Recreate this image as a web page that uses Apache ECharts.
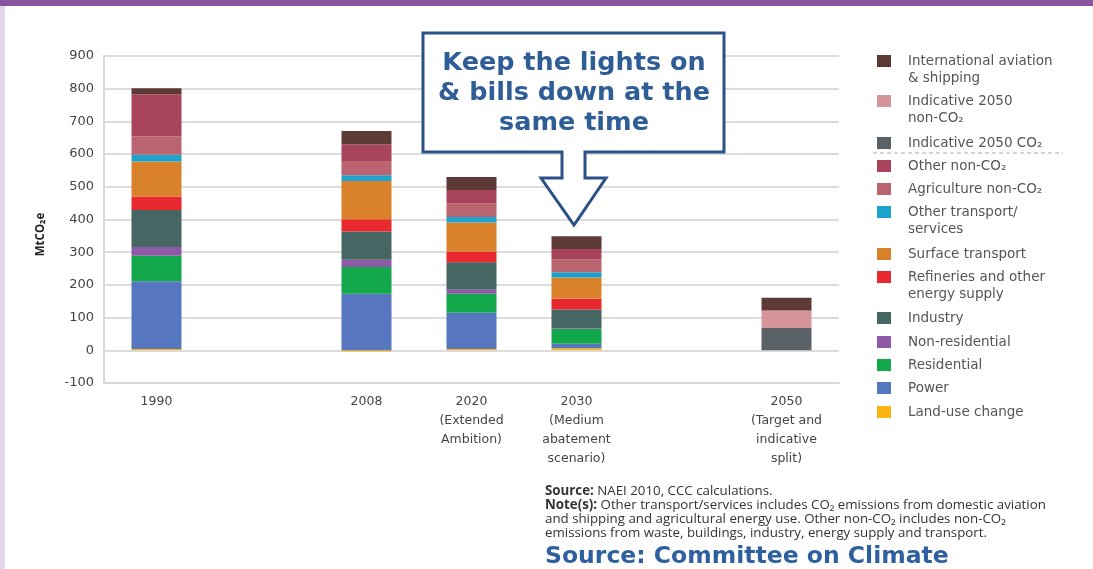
<!DOCTYPE html>
<html>
<head>
<meta charset="utf-8">
<script src="https://cdn.jsdelivr.net/npm/echarts@6/dist/echarts.min.js"></script>
<style>
html,body{margin:0;padding:0;background:#fff;}
#chart{width:1093px;height:569px;}
</style>
</head>
<body>
<div id="chart"></div>
<script>
// ---- data ----
const categories = ['1990', ' ', '2008', '2020\n(Extended\nAmbition)', '2030\n(Medium\nabatement\nscenario)', '  ', '2050\n(Target and\nindicative\nsplit)'];
const yTicks = [-100, 0, 100, 200, 300, 400, 500, 600, 700, 800, 900];

const landUse        = [4,   '-', -4,  4,   6,   '-', '-'];
const power          = [207, '-', 173, 111, 14,  '-', '-'];
const residential    = [78,  '-', 82,  58,  46,  '-', '-'];
const nonResidential = [27,  '-', 22,  12,  2,   '-', '-'];
const industry       = [113, '-', 86,  84,  57,  '-', '-'];
const refineries     = [41,  '-', 38,  33,  33,  '-', '-'];
const surfaceTransport = [107, '-', 117, 89, 65, '-', '-'];
const otherTransport = [21,  '-', 17,  17,  16,  '-', '-'];
const agriculture    = [56,  '-', 44,  42,  39,  '-', '-'];
const otherNonCO2    = [129, '-', 51,  40,  32,  '-', '-'];
const indicativeCO2  = ['-', '-', '-', '-', '-', '-', 68];
const indicativeNonCO2 = ['-', '-', '-', '-', '-', '-', 54];
const intlAviation   = [18,  '-', 41,  40,  39,  '-', 39];

const seriesNames = ['Land-use change', 'Power', 'Residential', 'Non-residential', 'Industry',
  'Refineries and other energy supply', 'Surface transport', 'Other transport/services',
  'Agriculture non-CO₂', 'Other non-CO₂', 'Indicative 2050 CO₂', 'Indicative 2050 non-CO₂',
  'International aviation & shipping'];
const seriesValues = [landUse, power, residential, nonResidential, industry, refineries,
  surfaceTransport, otherTransport, agriculture, otherNonCO2, indicativeCO2, indicativeNonCO2, intlAviation];
const legendLabels = {
  'International aviation & shipping': ['International aviation', '& shipping'],
  'Indicative 2050 non-CO₂': ['Indicative 2050', 'non-CO₂'],
  'Indicative 2050 CO₂': ['Indicative 2050 CO₂'],
  'Other non-CO₂': ['Other non-CO₂'],
  'Agriculture non-CO₂': ['Agriculture non-CO₂'],
  'Other transport/services': ['Other transport/', 'services'],
  'Surface transport': ['Surface transport'],
  'Refineries and other energy supply': ['Refineries and other', 'energy supply'],
  'Industry': ['Industry'],
  'Non-residential': ['Non-residential'],
  'Residential': ['Residential'],
  'Power': ['Power'],
  'Land-use change': ['Land-use change']
};
const calloutText = 'Keep the lights on\n& bills down at the\nsame time';
const noteLines = [
  '{b|Source:} NAEI 2010, CCC calculations.',
  '{b|Note(s):} Other transport/services includes CO₂ emissions from domestic aviation',
  'and shipping and agricultural energy use. Other non-CO₂ includes non-CO₂',
  'emissions from waste, buildings, industry, energy supply and transport.'
];
const sourceText = 'Source: Committee on Climate';

// ---- styles / layout ----
const colors = {
  'Land-use change': '#fbb517',
  'Power': '#5677bf',
  'Residential': '#12a84b',
  'Non-residential': '#8e5aa8',
  'Industry': '#466664',
  'Refineries and other energy supply': '#e8292f',
  'Surface transport': '#d9822b',
  'Other transport/services': '#1ba3cc',
  'Agriculture non-CO₂': '#b9646f',
  'Other non-CO₂': '#a8445c',
  'Indicative 2050 CO₂': '#5b6267',
  'Indicative 2050 non-CO₂': '#d6959b',
  'International aviation & shipping': '#5e3a36'
};
const legendOrder = ['International aviation & shipping', 'Indicative 2050 non-CO₂', 'Indicative 2050 CO₂',
  'Other non-CO₂', 'Agriculture non-CO₂', 'Other transport/services', 'Surface transport',
  'Refineries and other energy supply', 'Industry', 'Non-residential', 'Residential', 'Power', 'Land-use change'];
const legendIconCenters = [61, 101, 143, 166, 189, 212, 254, 277, 318, 342, 365, 388, 412];
const LH = 17;

const chart = echarts.init(document.getElementById('chart'));

const legends = legendOrder.map((name, i) => {
  const lines = legendLabels[name];
  const twoLine = lines.length > 1;
  // For two-line entries, a blank first line keeps the first text line level with the icon
  const label = twoLine ? '\u00a0\n' + lines.join('\n') : lines[0];
  return {
    data: [{name: name, icon: 'rect'}],
    orient: 'vertical',
    left: 877,
    top: legendIconCenters[i] - (twoLine ? 1.5 * LH : 0.5 * LH),
    padding: 0,
    itemWidth: 14,
    itemHeight: 12,
    selectedMode: false,
    formatter: () => label,
    textStyle: {
      fontFamily: 'DejaVu Sans', fontSize: 13.5, color: '#555', lineHeight: LH,
      padding: [0, 0, 0, 12]
    }
  };
});

const series = seriesNames.map((name, i) => ({
  name: name,
  type: 'bar',
  stack: 'total',
  barWidth: 50,
  data: seriesValues[i],
  itemStyle: {color: colors[name]},
  emphasis: {disabled: true}
}));

const calloutShape = [[423,33],[724,33],[724,152],[585,152],[585,178],[606,178],[574,225],[541,178],[562,178],[562,152],[423,152]];

chart.setOption({
  backgroundColor: '#ffffff',
  animation: false,
  grid: {left: 104, right: 254, top: 56, bottom: 186, containLabel: false},
  xAxis: {
    type: 'category',
    data: categories,
    axisTick: {show: false},
    axisLine: {onZero: false, lineStyle: {color: '#d8d8d8', width: 2}},
    axisLabel: {interval: 0, fontFamily: 'DejaVu Sans', fontSize: 12.5, color: '#444', lineHeight: 19, margin: 9}
  },
  yAxis: {
    type: 'value',
    min: yTicks[0],
    max: yTicks[yTicks.length - 1],
    interval: 100,
    name: 'MtCO₂e',
    nameLocation: 'middle',
    nameGap: 57,
    nameTextStyle: {fontFamily: 'Open Sans', fontSize: 11.5, fontWeight: 'bold', color: '#222', padding: [0, 30, 0, 0]},
    axisLine: {show: true, lineStyle: {color: '#d8d8d8', width: 2}},
    axisTick: {show: false},
    splitLine: {lineStyle: {color: '#dcdcdc', width: 2}},
    axisLabel: {fontFamily: 'DejaVu Sans', fontSize: 13, color: '#444', margin: 10}
  },
  legend: legends,
  series: series,
  graphic: [
    {type: 'rect', left: 0, top: 0, shape: {width: 1093, height: 6}, style: {fill: '#8a53a0'}, z: 100},
    {type: 'rect', left: 0, top: 6, shape: {width: 5, height: 563}, style: {fill: '#e3d5ea'}, z: 100},
    {type: 'polygon', shape: {points: calloutShape}, style: {fill: '#ffffff', stroke: '#2b5187', lineWidth: 3}, z: 100},
    {type: 'text', x: 574, y: 93, z: 101,
      style: {text: calloutText, align: 'center', verticalAlign: 'middle', fontFamily: 'DejaVu Sans', fontWeight: 'bold', fontSize: 25.5, lineHeight: 30, fill: '#2f5d96'}},
    {type: 'line', shape: {x1: 873, y1: 153, x2: 1063, y2: 153}, style: {stroke: '#aaaaaa', lineWidth: 1, lineDash: [4, 3]}, z: 100},
    {type: 'text', x: 545, y: 484, z: 100,
      style: {text: noteLines.join('\n'), fontFamily: 'Open Sans', fontSize: 13.3, lineHeight: 14, fill: '#333',
        rich: {b: {fontFamily: 'Open Sans', fontSize: 13.3, fontWeight: 'bold', fill: '#333', lineHeight: 14}}}},
    {type: 'text', x: 545, y: 557, z: 100,
      style: {text: sourceText, verticalAlign: 'middle', fontFamily: 'DejaVu Sans', fontWeight: 'bold', fontSize: 23.5, fill: '#2e5f9e'}}
  ]
});
</script>
</body>
</html>
